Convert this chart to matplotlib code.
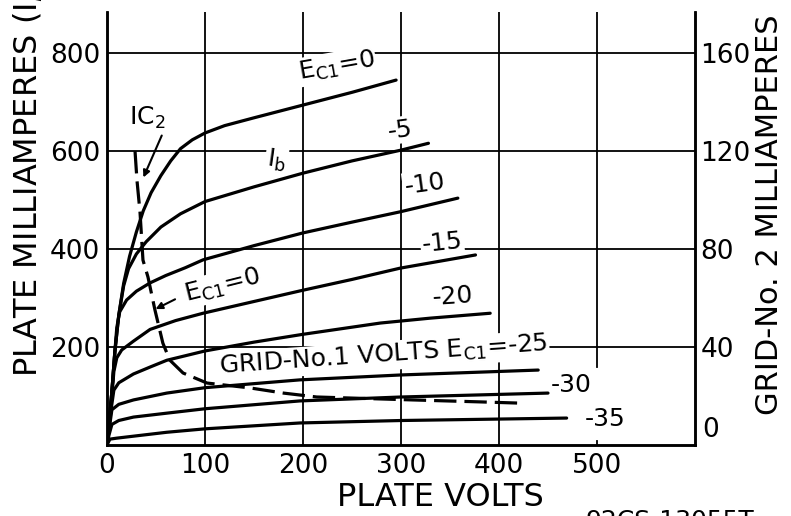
import matplotlib
matplotlib.use("Agg")
import matplotlib.pyplot as plt

# -----------------------------
# Plate characteristics
# -----------------------------

v_0 = [0, 2, 5, 8, 12, 17, 23, 30, 37, 45, 55, 65, 75, 87, 100, 120, 150, 200, 250, 295]
i_0 = [0, 40, 110, 190, 265, 330, 385, 435, 478, 515, 550, 580, 605, 623, 637, 652, 668, 694, 720, 745]

v_5 = [0, 2, 5, 8, 12, 17, 22, 30, 40, 55, 75, 100, 150, 200, 250, 300, 328]
i_5 = [0, 40, 110, 190, 265, 325, 360, 390, 415, 445, 472, 497, 527, 555, 580, 602, 616]

v_10 = [0, 2, 5, 8, 10, 13, 20, 30, 44, 60, 80, 98, 150, 200, 250, 299, 358]
i_10 = [0, 40, 110, 190, 240, 272, 296, 314, 331, 346, 362, 378, 407, 433, 455, 476, 504]

v_15 = [0, 2, 5, 7, 10, 15, 27, 44, 70, 98, 150, 200, 250, 299, 376]
i_15 = [0, 35, 100, 150, 178, 194, 212, 236, 254, 269, 293, 316, 338, 361, 388]

v_20 = [0, 2, 4, 7, 12, 27, 45, 61, 100, 150, 200, 279, 330, 391]
i_20 = [0, 30, 70, 112, 127, 145, 160, 173, 192, 210, 226, 249, 259, 269]

v_25 = [0, 2, 5, 12, 27, 61, 100, 197, 300, 440]
i_25 = [0, 30, 72, 83, 92, 106, 117, 133, 143, 153]

v_30 = [0, 2, 5, 12, 27, 61, 100, 197, 300, 450]
i_30 = [0, 20, 42, 50, 57, 65, 74, 90, 98, 106]

v_35 = [0, 3, 10, 27, 61, 100, 197, 300, 469]
i_35 = [0, 12, 14, 18, 26, 33, 45, 50, 55]

# grid-No.2 current for Ec1 = 0 (right scale)
v_ic2 = [28.6, 30.6, 33.7, 36.7, 41.8, 49, 57, 64, 77.6, 102, 146, 180, 214, 312, 381, 421]
i_ic2 = [120, 108, 95, 75.5, 68.6, 55, 41.6, 34.7, 29.4, 25.3, 23.3, 21.2, 19.6, 18.4, 17.6, 17.1]

x_ticks = [0, 100, 200, 300, 400, 500]
y_ticks = [200, 400, 600, 800]
y2_ticks = [40, 80, 120, 160]

# -----------------------------
# Figure
# -----------------------------

plt.rcParams['font.family'] = ['DejaVu Sans']
plt.rcParams['mathtext.fontset'] = 'dejavusans'

fig = plt.figure(figsize=(7.91, 5.16), dpi=100)
ax = fig.add_axes([107 / 791, 71 / 516, 588 / 791, 433 / 516])
ax.set_xlim(0, 600)
ax.set_ylim(0, 884)

# grid
for x in [100, 200, 300, 400]:
    ax.axvline(x, color='black', lw=1.3, zorder=1)
ax.axvline(500, ymin=160 / 884, ymax=1, color='black', lw=1.3, zorder=1)
ax.axvline(500, ymin=0, ymax=8 / 884, color='black', lw=1.3, zorder=1)
for y in y_ticks:
    ax.axhline(y, color='black', lw=1.3, zorder=1)

for s in ['left', 'bottom', 'right']:
    ax.spines[s].set_linewidth(1.8)
ax.spines['top'].set_visible(False)

ax.set_xticks(x_ticks)
ax.set_yticks(y_ticks)
ax.tick_params(length=0, labelsize=19, pad=5)
ax.tick_params(axis='x', pad=6)

# curves
curves = [(v_0, i_0), (v_5, i_5), (v_10, i_10), (v_15, i_15),
          (v_20, i_20), (v_25, i_25), (v_30, i_30), (v_35, i_35)]
for v, i in curves:
    ax.plot(v, i, color='black', lw=2.3, solid_capstyle='round',
            solid_joinstyle='round', zorder=3)

ax2 = ax.twinx()
ax2.set_ylim(0, 884 / 5)
ax2.set_yticks(y2_ticks)
ax2.tick_params(length=0, labelsize=19, pad=4)
for s in ['left', 'bottom', 'right']:
    ax2.spines[s].set_linewidth(1.8)
ax2.spines['top'].set_visible(False)
ax2.plot(v_ic2, i_ic2, color='black', lw=2.3, linestyle=(0, (7, 2.5)), zorder=3)
ax2.annotate("0", xy=(1, 0), xycoords='axes fraction', xytext=(5, 11),
             textcoords='offset points', ha='left', va='center', fontsize=19)

# -----------------------------
# Curve labels
# -----------------------------

box = dict(facecolor='white', edgecolor='none', pad=1)
lab = dict(fontsize=18, ha='center', va='center', zorder=2, bbox=box)

ax.text(234, 773, r"E$_{\mathrm{C1}}$=0", rotation=10, **lab)
ax.text(173, 582, r"I$_{\mathrm{b}}$", rotation=-8, **lab)
ax.text(41, 667, r"IC$_2$", **lab)
ax.text(299, 643, "-5", rotation=8, **lab)
ax.text(324, 533, "-10", rotation=8, **lab)
ax.text(342, 412, "-15", rotation=6, **lab)
ax.text(353, 304, "-20", rotation=4, **lab)
ax.text(282, 182, r"GRID-No.1 VOLTS E$_{\mathrm{C1}}$=-25", rotation=4, **lab)
ax.text(474, 122, "-30", **lab)
ax.text(508, 53, "-35", **lab)
ax.text(118, 325, r"E$_{\mathrm{C1}}$=0", rotation=14, **lab)

ax.annotate("", xy=(36, 541), xytext=(57, 637),
            arrowprops=dict(arrowstyle='-|>', color='black', lw=1.5), zorder=4)
ax.annotate("", xy=(47, 275), xytext=(72, 300),
            arrowprops=dict(arrowstyle='-|>', color='black', lw=1.5), zorder=4)

# -----------------------------
# Axis titles
# -----------------------------

fig.text(337 / 791, 18 / 516, "PLATE VOLTS", fontsize=23, ha='left', va='center')
fig.text(28 / 791, 139 / 516, "PLATE MILLIAMPERES (I$_b$)", fontsize=23,
         rotation=90, ha='center', va='bottom')
fig.text(770 / 791, 101 / 516, "GRID-No. 2 MILLIAMPERES", fontsize=22,
         rotation=90, ha='center', va='bottom')
fig.text(585 / 791, 7 / 516, "92CS-13055T", fontsize=18, ha='left', va='top')

fig.savefig("out.png", dpi=100, facecolor='white')
